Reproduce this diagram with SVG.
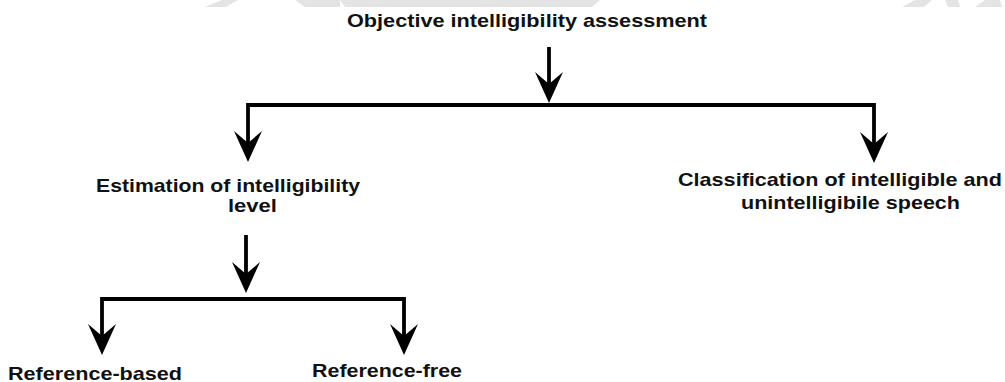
<svg xmlns="http://www.w3.org/2000/svg" width="1005" height="382" viewBox="0 0 1005 382">
  <style>
    .lbl { font-family: "Liberation Sans", Arial, Helvetica, sans-serif; font-weight: bold; font-size: 18.5px; fill: #111; }
    .wire { fill: none; stroke: #000; stroke-width: 3.8; stroke-linejoin: miter; stroke-linecap: butt; }
    .shade { fill: #e4e4e4; }
  </style>
  <defs>
    <marker id="head" viewBox="0 0 31 28" markerUnits="userSpaceOnUse" markerWidth="31" markerHeight="28" refX="12" refY="14" orient="auto-start-reverse">
      <path d="M0,0 L31,14 L0,28 L12,14 Z" fill="#000"/>
    </marker>
  </defs>

  <!-- faint band along the top edge -->
  <g id="top-band">
    <polygon class="shade" points="205,7 222,0 238,0 226,7"/>
    <polygon class="shade" points="295,0 340,0 340,7 305,7"/>
    <polygon class="shade" points="340,0 600,0 592,7 345,7"/>
    <polygon class="shade" points="902,7 915,0 932,0 924,7"/>
    <polygon class="shade" points="945,0 958,0 960,7 948,7"/>
    <polygon class="shade" points="975,7 985,0 1000,0 1002,7"/>
  </g>

  <!-- connectors: a bracket's path starts at its left tip and ends at its right tip -->
  <g id="connectors">
    <line class="wire" x1="549" y1="47" x2="549" y2="84" marker-end="url(#head)"/>
    <path class="wire" d="M248,143 L248,105 L874,105 L874,144" marker-start="url(#head)" marker-end="url(#head)"/>
    <line class="wire" x1="246" y1="235" x2="246" y2="274" marker-end="url(#head)"/>
    <path class="wire" d="M102,336 L102,299 L404,299 L404,336" marker-start="url(#head)" marker-end="url(#head)"/>
  </g>

  <!-- nodes -->
  <g id="node-objective">
    <text class="lbl" x="347" y="27" textLength="360" lengthAdjust="spacingAndGlyphs">Objective intelligibility assessment</text>
  </g>
  <g id="node-estimation">
    <text class="lbl" x="96" y="192" textLength="264" lengthAdjust="spacingAndGlyphs">Estimation of intelligibility</text>
    <text class="lbl" x="228" y="212" textLength="49" lengthAdjust="spacingAndGlyphs">level</text>
  </g>
  <g id="node-classification">
    <text class="lbl" x="678" y="186" textLength="324" lengthAdjust="spacingAndGlyphs">Classification of intelligible and</text>
    <text class="lbl" x="741" y="209" textLength="219" lengthAdjust="spacingAndGlyphs">unintelligibile speech</text>
  </g>
  <g id="node-reference-based">
    <text class="lbl" x="8" y="380" textLength="174" lengthAdjust="spacingAndGlyphs">Reference-based</text>
  </g>
  <g id="node-reference-free">
    <text class="lbl" x="312" y="377" textLength="150" lengthAdjust="spacingAndGlyphs">Reference-free</text>
  </g>
</svg>
